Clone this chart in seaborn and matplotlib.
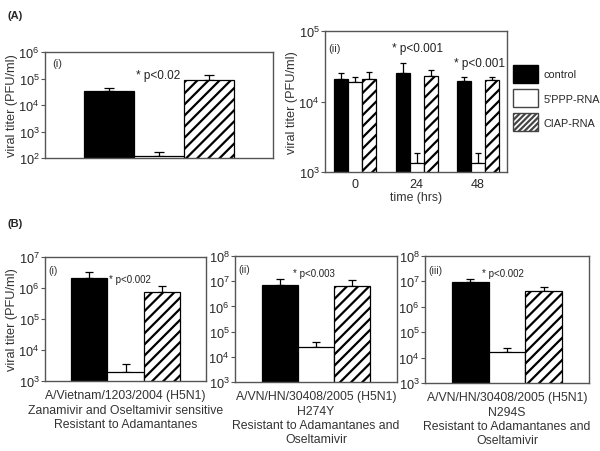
import matplotlib
matplotlib.use("Agg")
import matplotlib.pyplot as plt
from matplotlib.patches import Patch
from matplotlib.ticker import LogLocator, NullLocator
import seaborn as sns
import pandas as pd

sns.set_style("ticks")
plt.rcParams["font.family"] = ["Liberation Sans", "DejaVu Sans"]
plt.rcParams["hatch.linewidth"] = 1.6

treatments = ["control", "5'PPP-RNA", "CIAP-RNA"]
colors = {"control": "black", "5'PPP-RNA": "white", "CIAP-RNA": "white"}

# panel A(i): single time point
a1_mean = [3.5e4, 1.2e2, 9.0e4]
a1_upper = [4.4e4, 1.7e2, 1.35e5]

# panel A(ii): time course
times = ["0", "24", "48"]
a2_control = [2.1e4, 2.5e4, 1.95e4]
a2_control_up = [2.5e4, 3.5e4, 2.2e4]
a2_ppp = [1.9e4, 1.35e3, 1.35e3]
a2_ppp_up = [2.2e4, 1.85e3, 1.85e3]
a2_ciap = [2.1e4, 2.3e4, 2.0e4]
a2_ciap_up = [2.6e4, 2.8e4, 2.25e4]

# panel B: three strains
b1_mean = [2.1e6, 2.0e3, 7.4e5]
b1_upper = [3.2e6, 3.5e3, 1.15e6]
b2_mean = [7.0e6, 2.5e4, 6.5e6]
b2_upper = [1.2e7, 3.7e4, 1.1e7]
b3_mean = [9.3e6, 1.65e4, 4.2e6]
b3_upper = [1.2e7, 2.4e4, 6.1e6]

b_labels = [
    "A/Vietnam/1203/2004 (H5N1)\nZanamivir and Oseltamivir sensitive\nResistant to Adamantanes",
    "A/VN/HN/30408/2005 (H5N1)\nH274Y\nResistant to Adamantanes and\nOseltamivir",
    "A/VN/HN/30408/2005 (H5N1)\nN294S\nResistant to Adamantanes and\nOseltamivir",
]


def draw_bars(ax, df, uppers, width, capsize):
    sns.barplot(data=df, x="x", y="titer", hue="treatment", hue_order=treatments,
                palette=colors, width=width, errorbar=None, legend=False,
                edgecolor="black", linewidth=0.9, log_scale=True, ax=ax, zorder=2)
    # bars start at 0, so clip rather than mask on the log axis
    ax.set_yscale("log", nonpositive="clip")
    for cont, level in zip(ax.containers, treatments):
        for bar, up in zip(cont, uppers[level]):
            if level == "CIAP-RNA":
                bar.set_hatch("///")
            xc = bar.get_x() + bar.get_width() / 2
            h = bar.get_height()
            ax.errorbar([xc], [h], yerr=[[0], [up - h]], fmt="none", ecolor="black",
                        elinewidth=0.9, capsize=capsize, capthick=0.9, zorder=1)


def style_axes(ax):
    for s in ax.spines.values():
        s.set_visible(True)
        s.set_color("#555555")
        s.set_linewidth(1.0)
    ax.yaxis.set_major_locator(LogLocator(base=10, numticks=20))
    ax.yaxis.set_minor_locator(NullLocator())
    ax.tick_params(axis="y", labelsize=9.2, length=3, width=0.8, color="#555555", pad=1)
    ax.set_xlabel("")
    ax.set_ylabel("")


fig = plt.figure(figsize=(6, 4.52), dpi=100)

def px_axes(x0, y0, x1, y1):
    return fig.add_axes([x0 / 600, 1 - y1 / 452, (x1 - x0) / 600, (y1 - y0) / 452])

# A(i)
ax = px_axes(45, 53, 273, 159)
df = pd.DataFrame({"x": [""] * 3, "treatment": treatments, "titer": a1_mean})
draw_bars(ax, df, {t: [u] for t, u in zip(treatments, a1_upper)}, 0.8, 3.6)
ax.set_ylim(1e2, 1e6)
ax.set_xlim(-0.608, 0.608)
style_axes(ax)
ax.set_xticks([])
ax.set_ylabel("viral titer (PFU/ml)", fontsize=9.2, color="#333333", labelpad=0)
ax.text(0.03, 0.87, "(i)", transform=ax.transAxes, fontsize=8, color="#333333")
ax.text(0.40, 0.75, "* p<0.02", transform=ax.transAxes, fontsize=8.5, color="#222222")

# A(ii)
ax = px_axes(325, 32, 507, 173)
rows = []
for t, vals in zip(treatments, [a2_control, a2_ppp, a2_ciap]):
    for tm, v in zip(times, vals):
        rows.append({"x": tm, "treatment": t, "titer": v})
df = pd.DataFrame(rows)
draw_bars(ax, df, {"control": a2_control_up, "5'PPP-RNA": a2_ppp_up,
                   "CIAP-RNA": a2_ciap_up}, 0.68, 2.2)
ax.set_ylim(1e3, 1e5)
ax.set_xlim(-0.49, 2.47)
style_axes(ax)
ax.tick_params(axis="x", labelsize=9, length=0, pad=4)
ax.set_xlabel("time (hrs)", fontsize=8.8, color="#333333", labelpad=1)
ax.set_ylabel("viral titer (PFU/ml)", fontsize=9.2, color="#333333", labelpad=0)
ax.text(0.02, 0.86, "(ii)", transform=ax.transAxes, fontsize=8, color="#333333")
ax.text(0.37, 0.86, "* p<0.001", transform=ax.transAxes, fontsize=8.5, color="#222222")
ax.text(0.71, 0.75, "* p<0.001", transform=ax.transAxes, fontsize=8.5, color="#222222")

# B panels
b_boxes = [(45, 258, 206, 382), (235, 257, 397, 383), (425, 257, 589, 384)]
b_data = [(b1_mean, b1_upper, 1e7), (b2_mean, b2_upper, 1e8), (b3_mean, b3_upper, 1e8)]
b_tags = ["(i)", "(ii)", "(iii)"]
b_pvals = [("* p<0.002", 0.40, 0.80), ("* p<0.003", 0.36, 0.84), ("* p<0.002", 0.35, 0.84)]
for i, (box, (mean, upper, top)) in enumerate(zip(b_boxes, b_data)):
    ax = px_axes(*box)
    df = pd.DataFrame({"x": [""] * 3, "treatment": treatments, "titer": mean})
    draw_bars(ax, df, {t: [u] for t, u in zip(treatments, upper)}, 0.8, 3.0)
    ax.set_ylim(1e3, top)
    ax.set_xlim(-0.596, 0.596)
    style_axes(ax)
    ax.set_xticks([])
    if i == 0:
        ax.set_ylabel("viral titer (PFU/ml)", fontsize=9.2, color="#333333", labelpad=0)
    ax.text(0.02, 0.87, b_tags[i], transform=ax.transAxes, fontsize=7.5, color="#333333")
    txt, tx, ty = b_pvals[i]
    ax.text(tx, ty, txt, transform=ax.transAxes, fontsize=7, color="#222222")
    ax.set_xlabel(b_labels[i], fontsize=8.8, color="#333333", labelpad=6, linespacing=1.25)

fig.legend(handles=[Patch(facecolor="black", edgecolor="black"),
                    Patch(facecolor="white", edgecolor="#444444"),
                    Patch(facecolor="white", edgecolor="#444444", hatch="//////")],
           labels=treatments, loc="upper left", bbox_to_anchor=(513 / 600, 1 - 66 / 452),
           frameon=False, fontsize=7.8, handlelength=2.3, handleheight=2.2,
           labelspacing=0.55, handletextpad=0.5, borderpad=0, borderaxespad=0)

fig.text(8 / 600, 1 - 16 / 452, "(A)", fontsize=8, fontweight="bold", va="center")
fig.text(8 / 600, 1 - 224 / 452, "(B)", fontsize=8, fontweight="bold", va="center")

fig.savefig("out.png", dpi=100)
